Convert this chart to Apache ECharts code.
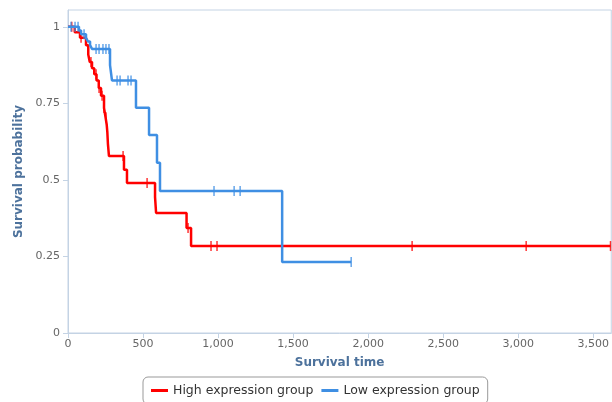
<!DOCTYPE html>
<html>
<head>
<meta charset="utf-8">
<script src="https://cdn.jsdelivr.net/npm/echarts@6/dist/echarts.min.js"></script>
<style>html,body{margin:0;padding:0;background:#fff}#c{width:612px;height:402px}</style>
</head>
<body>
<div id="c"></div>
<script>
const seriesNames = ['High expression group', 'Low expression group'];
const highTime = [0, 45, 80, 120, 135, 145, 160, 175, 190, 205, 220, 240, 250, 258, 262, 266, 273, 373, 393, 580, 587, 790, 820, 3615];
const highSurv = [1, 0.982, 0.964, 0.94, 0.91, 0.885, 0.865, 0.845, 0.825, 0.80, 0.775, 0.735, 0.705, 0.68, 0.657, 0.618, 0.578, 0.533, 0.49, 0.444, 0.392, 0.343, 0.284, 0.284];
const highCensorTime = [25, 87, 153, 187, 207, 227, 240, 253, 367, 527, 800, 953, 993, 2293, 3053, 3615];
const highCensorSurv = [1, 0.964, 0.885, 0.845, 0.80, 0.775, 0.735, 0.705, 0.578, 0.49, 0.343, 0.284, 0.284, 0.284, 0.284, 0.284];
const lowTime = [0, 73, 87, 120, 133, 147, 160, 280, 293, 453, 540, 593, 613, 1427, 1887];
const lowSurv = [1, 0.988, 0.976, 0.964, 0.952, 0.94, 0.928, 0.875, 0.825, 0.736, 0.647, 0.556, 0.464, 0.232, 0.232];
const lowCensorTime = [20, 47, 67, 107, 187, 207, 233, 253, 273, 327, 347, 400, 420, 973, 1107, 1147, 1887];
const lowCensorSurv = [1, 1, 1, 0.976, 0.928, 0.928, 0.928, 0.928, 0.928, 0.825, 0.825, 0.825, 0.825, 0.464, 0.464, 0.464, 0.232];
const colors = ['#ff0000', '#3f8fe3'];

const zip = (a, b) => a.map((v, i) => [v, b[i]]);
const fmt = v => String(v).replace(/\B(?=(\d{3})+(?!\d))/g, ',');
const FONT = 'DejaVu Sans';

const chart = echarts.init(document.getElementById('c'), null, {renderer: 'canvas'});
chart.setOption({
  animation: false,
  textStyle: {fontFamily: FONT},
  grid: {left: 68, right: -1, top: 10, bottom: 69, show: true, borderColor: '#c4d3e4', borderWidth: 1, backgroundColor: 'transparent'},
  legend: {
    data: seriesNames,
    left: 143, top: 377,
    padding: [7, 8],
    itemGap: 8,
    itemWidth: 17, itemHeight: 3,
    icon: 'rect',
    borderColor: '#999', borderWidth: 1, borderRadius: 5,
    textStyle: {fontFamily: FONT, fontSize: 12.5, color: '#333'}
  },
  xAxis: {
    type: 'value', min: 0, max: 3620, interval: 500,
    name: 'Survival time', nameLocation: 'middle', nameGap: 24,
    nameTextStyle: {fontFamily: FONT, fontWeight: 'bold', fontSize: 12, color: '#4d729c'},
    axisLine: {show: true, lineStyle: {color: '#c4d3e4', width: 1}},
    axisTick: {show: true, length: 5, lineStyle: {color: '#c4d3e4'}},
    axisLabel: {color: '#666', fontSize: 11, margin: 6, showMaxLabel: false, formatter: fmt},
    splitLine: {show: false}
  },
  yAxis: {
    type: 'value', min: 0, max: 1.055, interval: 0.25,
    name: 'Survival probability', nameLocation: 'middle', nameGap: 41, nameRotate: 90,
    nameTextStyle: {fontFamily: FONT, fontWeight: 'bold', fontSize: 12, color: '#4d729c'},
    axisLine: {show: true, lineStyle: {color: '#c4d3e4', width: 1}},
    axisTick: {show: true, length: 5, lineStyle: {color: '#c4d3e4'}},
    axisLabel: {color: '#666', fontSize: 11, margin: 8, showMaxLabel: false},
    splitLine: {show: false}
  },
  series: [
    {name: seriesNames[0], type: 'line', step: 'end', data: zip(highTime, highSurv), showSymbol: false, symbol: 'none',
     lineStyle: {color: colors[0], width: 2.5}, itemStyle: {color: colors[0]}, z: 2},
    {name: 'hc', type: 'scatter', data: zip(highCensorTime, highCensorSurv), symbol: 'rect', symbolSize: [1.5, 10],
     itemStyle: {color: colors[0]}, z: 2},
    {name: seriesNames[1], type: 'line', step: 'end', data: zip(lowTime, lowSurv), showSymbol: false, symbol: 'none',
     lineStyle: {color: colors[1], width: 2.5}, itemStyle: {color: colors[1]}, z: 3},
    {name: 'lc', type: 'scatter', data: zip(lowCensorTime, lowCensorSurv), symbol: 'rect', symbolSize: [1.5, 10],
     itemStyle: {color: colors[1]}, z: 3}
  ]
});
</script>
</body>
</html>
